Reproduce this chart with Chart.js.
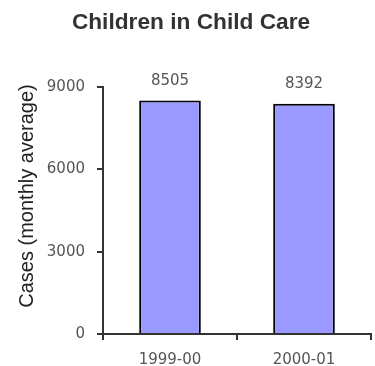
<!DOCTYPE html>
<html>
<head>
<meta charset="utf-8">
<script src="https://cdn.jsdelivr.net/npm/chart.js@4"></script>
<style>
  html, body { margin: 0; padding: 0; background: #fff; }
  #wrap { width: 375px; height: 366px; }
</style>
</head>
<body>
<div id="wrap"><canvas id="c" width="375" height="366"></canvas></div>
<script>
// Fiscal years shown on the x axis
const years = ['1999-00', '2000-01'];
// Children in child care, monthly average cases
const cases = [8505, 8392];
// Value axis range and tick spacing
const yMin = 0;
const yMax = 9000;
const yStep = 3000;

const chartTitle = 'Children in Child Care';
const yAxisTitle = 'Cases (monthly average)';

const tickFont = { family: '"DejaVu Sans", Verdana, sans-serif', size: 15 };
const tickColor = '#555';
const axisColor = '#333';

// Value labels printed above each bar
const barValueLabels = {
  id: 'barValueLabels',
  afterDatasetsDraw(chart) {
    const ctx = chart.ctx;
    const meta = chart.getDatasetMeta(0);
    ctx.save();
    ctx.font = tickFont.size + 'px ' + tickFont.family;
    ctx.fillStyle = tickColor;
    ctx.textAlign = 'center';
    ctx.textBaseline = 'alphabetic';
    meta.data.forEach((bar, i) => {
      ctx.fillText(String(chart.data.datasets[0].data[i]), bar.x, bar.y - 16);
    });
    ctx.restore();
  }
};

// Rotated title beside the value axis
const sideTitle = {
  id: 'sideTitle',
  afterDraw(chart) {
    const ctx = chart.ctx;
    ctx.save();
    ctx.translate(33, 196);
    ctx.rotate(-Math.PI / 2);
    ctx.font = '20px "Liberation Sans", Arial, sans-serif';
    ctx.fillStyle = '#222';
    ctx.textAlign = 'center';
    ctx.textBaseline = 'alphabetic';
    ctx.fillText(yAxisTitle, 0, 0);
    ctx.restore();
  }
};

new Chart(document.getElementById('c'), {
  type: 'bar',
  data: {
    labels: years,
    datasets: [{
      data: cases,
      backgroundColor: '#9999ff',
      borderColor: '#000',
      borderWidth: 2,
      categoryPercentage: 1,
      barPercentage: 0.46
    }]
  },
  options: {
    responsive: false,
    animation: false,
    events: [],
    layout: { padding: { left: 11, right: 4, top: 0, bottom: 0 } },
    plugins: {
      legend: { display: false },
      tooltip: { enabled: false },
      title: {
        display: true,
        text: chartTitle,
        color: '#333',
        font: { family: '"Liberation Sans", Arial, sans-serif', size: 22.7, weight: 'bold', lineHeight: 1.2 },
        padding: { top: 9, bottom: 50.76 }
      }
    },
    scales: {
      x: {
        offset: true,
        grid: {
          display: true,
          drawOnChartArea: false,
          drawTicks: true,
          tickLength: 6,
          color: axisColor,
          lineWidth: 2,
          offset: true
        },
        border: { display: true, color: axisColor, width: 2 },
        ticks: { font: tickFont, color: tickColor, padding: 11 },
        afterFit(scale) { scale.height = 32; }
      },
      y: {
        min: yMin,
        max: yMax,
        grid: {
          display: true,
          drawOnChartArea: false,
          drawTicks: true,
          tickLength: 6,
          color: axisColor,
          lineWidth: 2
        },
        border: { display: true, color: axisColor, width: 2 },
        ticks: {
          stepSize: yStep,
          font: tickFont,
          color: tickColor,
          padding: 12,
          callback: (v) => String(v)
        },
        afterFit(scale) { scale.width = 92; }
      }
    }
  },
  plugins: [barValueLabels, sideTitle]
});
</script>
</body>
</html>
